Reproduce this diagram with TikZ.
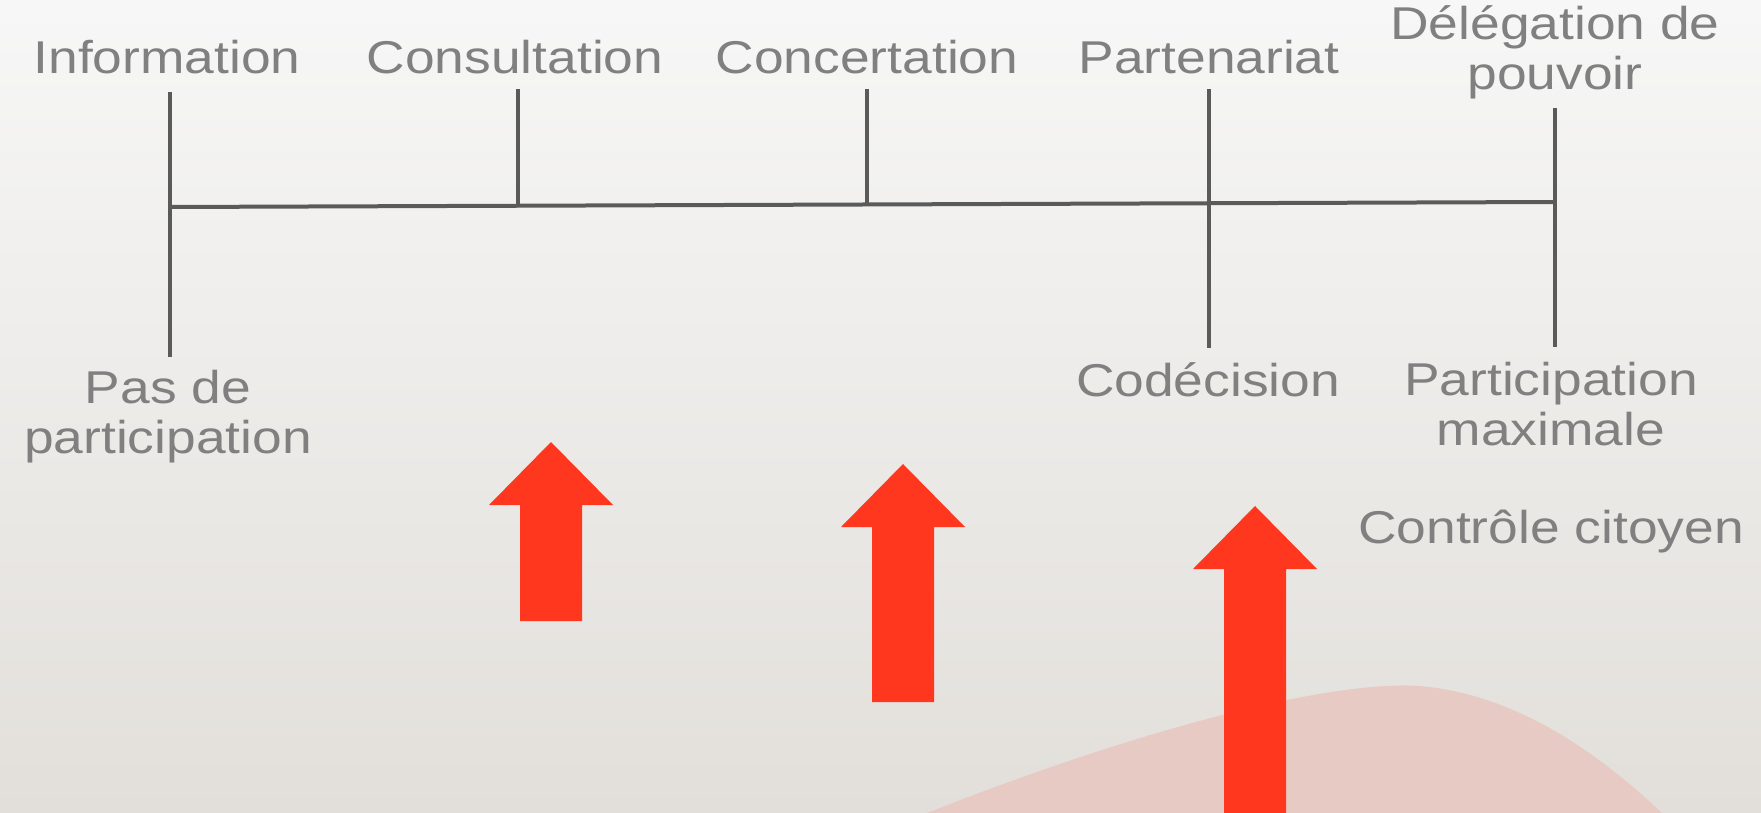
\documentclass[tikz,border=0pt]{standalone}
\usepackage{fontspec}
\newfontfamily\labelfont[FakeStretch=1.16]{Liberation Sans}

\definecolor{axisgray}{HTML}{5A5A5A}
\definecolor{textgray}{HTML}{808080}
\definecolor{arrowred}{HTML}{FF371E}
\definecolor{blobpink}{HTML}{E7CAC3}
\definecolor{bgtop}{HTML}{F7F7F7}
\definecolor{bgbottom}{HTML}{E2DFDA}

\begin{document}
\begin{tikzpicture}[x=0.5pt, y=-0.5pt,
	level/.style={font=\labelfont\fontsize{23}{25}\selectfont, text=textgray, align=center, inner sep=0pt, anchor=base},
	tick/.style={draw=axisgray, line width=2pt},
	uparrow/.style={fill=arrowred}]
		\useasboundingbox (0,0) rectangle (1761,813);
		\fill[top color=bgtop, bottom color=bgbottom] (0,0) rectangle (1761,813);
		\fill[blobpink] (927,813) .. controls (1150,725) and (1335,680) .. (1420,686)
			.. controls (1510,694) and (1590,745) .. (1662,813) -- cycle;
		
		\coordinate (info top) at (170,92);
		\coordinate (info bot) at (170,357);
		\coordinate (cons top) at (518,89);
		\coordinate (cons axis) at (518,206);
		\coordinate (conc top) at (867,89);
		\coordinate (conc axis) at (867,205);
		\coordinate (part top) at (1209,89);
		\coordinate (part bot) at (1209,348);
		\coordinate (deleg top) at (1555,108);
		\coordinate (deleg bot) at (1555,347);
		\coordinate (axis start) at (170,207);
		\coordinate (axis end) at (1555,202);
		
		\draw[tick] (axis start) -- (axis end);
		\draw[tick] (info top) -- (info bot)
		(cons top) -- (cons axis)
		(conc top) -- (conc axis)
		(part top) -- (part bot)
		(deleg top) -- (deleg bot);
		
		% two-line labels sit on the baseline of their last line
		\node[level] (information) at (167,74) {Information};
		\node[level] (consultation) at (515,74) {Consultation};
		\node[level] (concertation) at (867,74) {Concertation};
		\node[level] (partenariat) at (1209,74) {Partenariat};
		\node[level] (delegation) at (1555,90) {Délégation de\\pouvoir};
		\node[level] (aucune) at (168,453) {Pas de\\participation};
		\node[level] (codecision) at (1208,396) {Codécision};
		\node[level] (maximale) at (1551,445) {Participation\\maximale};
		\node[level] (controle) at (1551,543) {Contrôle citoyen};
		
		\foreach \x/\tip/\bot in {551/442/621, 903/464/702, 1255/506/813}
			\fill[uparrow] (\x,\tip) -- ++(62,63) -- ++(-31,0) -- (\x+31,\bot)
			-- (\x-31,\bot) -- (\x-31,\tip+63) -- ++(-31,0) -- cycle;
	\end{tikzpicture}
\end{document}
